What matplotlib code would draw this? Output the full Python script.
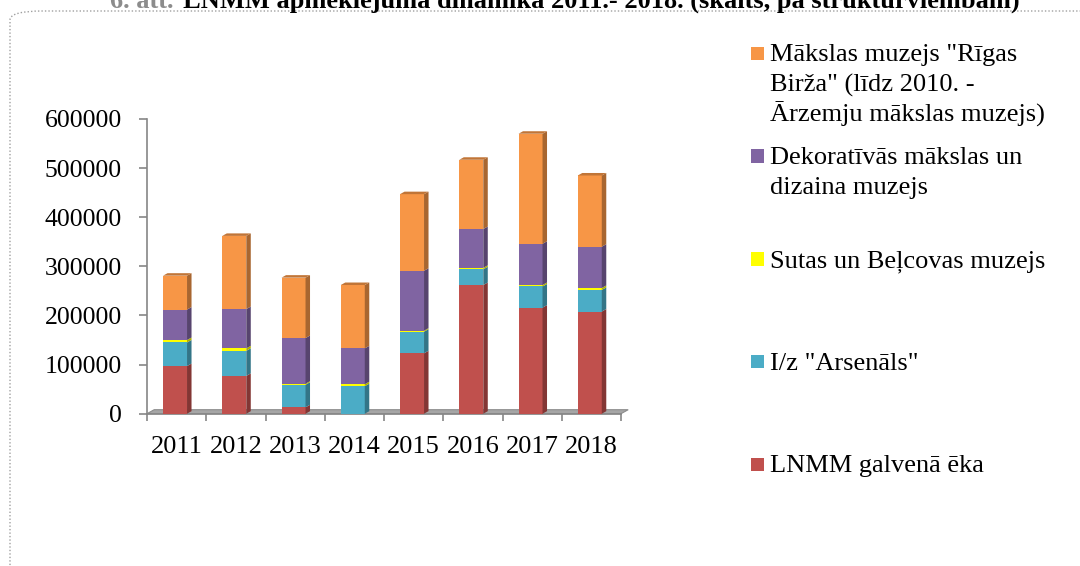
import matplotlib
matplotlib.use('Agg')
import matplotlib.pyplot as plt
from matplotlib.patches import Polygon, Rectangle, FancyBboxPatch
from matplotlib.colors import to_rgb

plt.rcParams['font.family'] = ['Liberation Serif', 'DejaVu Serif']

years = ['2011', '2012', '2013', '2014', '2015', '2016', '2017', '2018']

# segments from bottom to top
galvena_eka = [97000, 77000, 13000, 0, 123000, 262000, 216000, 208000]
arsenals = [48000, 51000, 46000, 56000, 44000, 32000, 43000, 44000]
sutas_belcovas = [5000, 5000, 2000, 4000, 2000, 3000, 3000, 4000]
dekorativas = [62000, 80000, 93000, 73000, 122000, 79000, 84000, 84000]
rigas_birza = [69000, 149000, 123000, 129000, 156000, 141000, 224000, 145000]

series = [galvena_eka, arsenals, sutas_belcovas, dekorativas, rigas_birza]
colors = ['#C0504D', '#4BACC6', '#FFFF00', '#8064A2', '#F79646']
labels = [['LNMM galvenā ēka'],
          ['I/z "Arsenāls"'],
          ['Sutas un Beļcovas muzejs'],
          ['Dekoratīvās mākslas un', 'dizaina muzejs'],
          ['Mākslas muzejs "Rīgas', 'Birža" (līdz 2010. -', 'Ārzemju mākslas muzejs)']]


def darker(c, f):
    r, g, b = to_rgb(c)
    return (r * f, g * f, b * f)


W, H = 1080, 566
fig = plt.figure(figsize=(W / 100, H / 100), dpi=100)

# dotted rounded frame (runs off the bottom and right of the picture)
frame = FancyBboxPatch((10 / W, 1 - 574 / H), 1120 / W, 563 / H,
                       boxstyle='round,pad=0,rounding_size=0.03',
                       transform=fig.transFigure, fill=False,
                       edgecolor='#A0A0A0', linestyle=(0, (1, 1.5)), lw=1.0,
                       clip_on=False, mutation_aspect=H / W)
fig.patches.append(frame)

# title is cut off at the top in the original
fig.text(173 / W, 1 - 8 / H, '6. att.', color='#8C8C8C', fontsize=19,
         fontweight='bold', ha='right', va='baseline')
fig.text(183 / W, 1 - 8 / H,
         'LNMM apmeklējuma dinamika 2011.- 2018. (skaits, pa struktūrvienībām)',
         fontsize=19, fontweight='bold', ha='left', va='baseline')

left, right, bottom, top = 147, 621, 413.7, 119
ax = fig.add_axes([left / W, 1 - bottom / H, (right - left) / W, (bottom - top) / H])
ax.set_xlim(0, 8)
ax.set_ylim(0, 600000)

px_x = 8 / (right - left)
px_y = 600000 / (bottom - top)
dx = 4.5 * px_x
dy = 2.5 * px_y
bw = 24 * px_x

xs = [i + 0.5 - 1.6 * px_x for i in range(len(years))]
base = [0] * len(years)
for vals, col in zip(series, colors):
    ax.bar(xs, vals, bottom=base, width=bw, color=col, edgecolor='none', zorder=3)
    for x, b, v in zip(xs, base, vals):
        if v == 0:
            continue
        x1 = x + bw / 2
        ax.add_patch(Polygon([(x1, b), (x1 + dx, b + dy), (x1 + dx, b + v + dy), (x1, b + v)],
                             closed=True, facecolor=darker(col, 0.68), edgecolor='none', zorder=3))
    base = [b + v for b, v in zip(base, vals)]

# top faces
for x, t in zip(xs, base):
    x0, x1 = x - bw / 2, x + bw / 2
    ax.add_patch(Polygon([(x0, t), (x1, t), (x1 + dx, t + dy), (x0 + dx, t + dy)],
                         closed=True, facecolor=darker(colors[-1], 0.78), edgecolor='none', zorder=4))

# floor
ax.add_patch(Polygon([(0, 0), (8, 0), (8 + 1.6 * dx, 1.6 * dy), (1.6 * dx, 1.6 * dy)],
                     closed=True, facecolor='#A6A6A6', edgecolor='#8C8C8C', lw=0.8,
                     zorder=2, clip_on=False))

for s in ['top', 'right']:
    ax.spines[s].set_visible(False)
ax.spines['left'].set_color('#868686')
ax.spines['bottom'].set_color('#868686')
ax.spines['left'].set_linewidth(1.2)
ax.spines['bottom'].set_linewidth(1.2)

ax.set_yticks(range(0, 600001, 100000))
ax.set_yticklabels([str(v) for v in range(0, 600001, 100000)])
ax.tick_params(axis='y', length=6, width=1.2, color='#868686', pad=12, labelsize=18.5)

ax.set_xticks(range(0, 9))
ax.set_xticklabels([])
ax.tick_params(axis='x', which='major', length=5, width=1.2, color='#868686')
ax.set_xticks([i + 0.5 for i in range(len(years))], minor=True)
ax.set_xticklabels(years, minor=True)
ax.tick_params(axis='x', which='minor', length=0, pad=16, labelsize=19)

# legend, placed by hand like the original
legend_y = [464, 361.5, 259, 156, 53.5]
for lines, col, y in zip(labels, colors, legend_y):
    fig.patches.append(Rectangle((751 / W, 1 - (y + 6.5) / H), 13 / W, 13 / H,
                                 transform=fig.transFigure, facecolor=col, edgecolor='none'))
    for k, line in enumerate(lines):
        fig.text(770 / W, 1 - (y + 8 + 30 * k) / H, line, fontsize=19,
                 ha='left', va='baseline')

fig.savefig('out.png', dpi=100)
